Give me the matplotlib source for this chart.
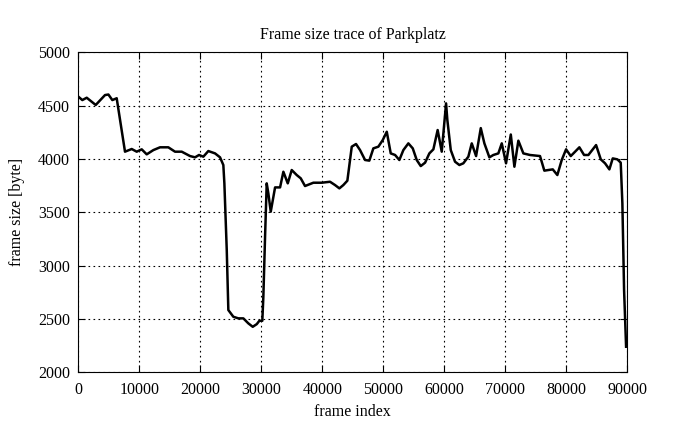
import matplotlib
matplotlib.use('Agg')
import matplotlib.pyplot as plt

# frame index / frame size [byte]
frame_idx = [0, 656, 1377, 2850, 4377, 4930, 5574, 6290, 7650, 8750, 9570, 10390,
             11210, 12300, 13390, 14750, 15850, 16950, 18310, 19130, 19790, 20490,
             21310, 22410, 23230, 23770, 23940, 24330, 24590, 25410, 26230, 27050,
             27870, 28590, 29250, 29670, 30160, 30330, 30610, 30880, 31150, 31540,
             32250, 33070, 33610, 34330, 34980, 35800, 36460, 37160, 38530, 39900,
             41260, 42080, 42790, 43440, 44100, 44820, 45520, 46180, 47000, 47700,
             48360, 49180, 49900, 50560, 51210, 51920, 52620, 53280, 54100, 54820,
             55470, 56130, 56840, 57540, 58200, 58900, 59570, 60280, 60490, 61050,
             61750, 62460, 63110, 63930, 64490, 65200, 65970, 66560, 67380, 68030,
             68850, 69410, 70110, 70890, 71480, 72130, 72950, 74040, 75680, 76390,
             77050, 77770, 78520, 79240, 79950, 80720, 81430, 82130, 82900, 83610,
             84870, 85640, 86340, 87050, 87600, 88360, 88910, 89180, 89460, 89790]
frame_size = [4585, 4553, 4575, 4507, 4600, 4605, 4553, 4570, 4069, 4094, 4069, 4091,
              4044, 4084, 4110, 4110, 4069, 4069, 4028, 4016, 4038, 4022,
              4075, 4053, 4016, 3944, 3772, 3146, 2584, 2521, 2506, 2506,
              2459, 2427, 2452, 2483, 2483, 2708, 3272, 3772, 3678, 3506,
              3734, 3734, 3881, 3772, 3897, 3850, 3819, 3747, 3778, 3778,
              3787, 3756, 3725, 3756, 3797, 4116, 4141, 4084, 3991, 3985,
              4100, 4116, 4178, 4256, 4053, 4038, 3991, 4084, 4147, 4100,
              3991, 3934, 3966, 4053, 4091, 4272, 4069, 4522, 4366, 4084,
              3975, 3944, 3960, 4022, 4147, 4028, 4290, 4147, 4016, 4038,
              4053, 4147, 3960, 4230, 3928, 4172, 4053, 4038, 4028, 3891,
              3897, 3903, 3850, 3991, 4091, 4028, 4069, 4110, 4038, 4038,
              4131, 3997, 3960, 3903, 4006, 3997, 3966, 3584, 2771, 2240]

xticks = [0, 10000, 20000, 30000, 40000, 50000, 60000, 70000, 80000, 90000]
yticks = [2000, 2500, 3000, 3500, 4000, 4500, 5000]

plt.rcParams['font.family'] = ['Liberation Serif', 'DejaVu Serif']
fig = plt.figure(figsize=(6.95, 4.26), dpi=100)
ax = fig.add_axes([0.1127, 0.126, 0.79, 0.751])
ax.plot(frame_idx, frame_size, color='black', lw=1.8)
ax.set_xlim(0, 90000)
ax.set_ylim(2000, 5000)
ax.set_xticks(xticks)
ax.set_yticks(yticks)
ax.tick_params(direction='in', top=True, right=True, labelsize=11.5, length=5, width=0.8)
ax.tick_params(axis='x', pad=7)
ax.tick_params(axis='y', pad=6)
ax.grid(True, color='black', linestyle=(0, (1.5, 3)), lw=0.8)
for s in ax.spines.values():
    s.set_linewidth(0.8)
ax.set_xlabel('frame index', fontsize=11.5, labelpad=4)
ax.set_ylabel('frame size [byte]', fontsize=11.5, labelpad=9)
ax.set_title('Frame size trace of Parkplatz', fontsize=11.5, pad=10)
plt.savefig('out.png', dpi=100)
